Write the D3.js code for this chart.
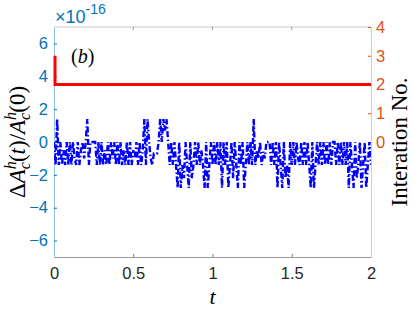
<!DOCTYPE html>
<html>
<head>
<meta charset="utf-8">
<script src="https://cdn.jsdelivr.net/npm/d3@7"></script>
<style>
  body { margin: 0; background: #fff; }
  svg { display: block; }
</style>
</head>
<body>
<div id="chart"></div>
<script>
// time grid of the blue series
const dt = 0.01
// relative change of A_c^h, in units of 1e-16
const dA = [
  0, -1.4, 1.4, -1.4, 0, -1.4, -0.5, -1.4, 0, -1.4,
  0, -1.4, 0, -1.0, -1.4, 0, -1.4, -0.5, 0, -1.0,
  0, 1.4, -1.4, 0, 0, 0, 0, -1.4,
  0, -1.4, 0, -1.4, -0.5, -1.4, 0, -1.4, 0, -1.0,
  0, -1.4, 0, -1.4, 0, -1.4, -0.5, -1.4, 0, -1.4, 0, -1.4,
  -0.5, -1.0, 0, -1.4, 0, -1.4, -0.5,
  1.4, -1.4, 1.4, 0,
  -1.0, -1.4, -0.7, -0.7, -0.7,
  0, 1.4, 0, 1.4, 0.7, 1.4, 0,
  -1.4, 0, -1.4, 0, -1.4,
  -2.8, 0, -2.8, -1.4, -2.2,
  0, -1.4,
  -2.8, 0, -2.2, -1.4,
  0, -1.4, 0, -1.4, -0.5, -1.4,
  -2.8, 0, -2.8, -1.4,
  0, -1.4, 0, -1.4, 0, -1.4, 0,
  -2.8, 0, -1.4, 0, -2.8, -1.4, 0, -2.2, 0, -1.4, -2.8, 0, -1.4, 0, -2.8, -1.4, 0,
  -1.4, 0, -1.4,
  1.4,
  -1.4, -0.5, -1.0, 0, -1.4, -0.6, -1.0, 0,
  0, 0,
  -1.4, 0, -1.4, 0,
  -2.8, 0, -1.4, -2.8, 0, -2.2, -1.4, -2.8, 0,
  -1.4, 0, -1.4, 0, -1.0, -1.4, 0, -1.4, 0, -1.4, 0, -1.4,
  -2.8, 0, -2.8, -1.4,
  0, -1.4, 0, -1.4, 0, -1.4, 0, -1.4, 0, -1.4,
  0, 0,
  -1.4, 0, -1.4, 0, -1.4, 0, -1.4, 0,
  -2.8, 0, -1.4, -2.8, 0, -2.2, -1.4, 0, -2.8, -1.4, 0, -2.8, -1.4,
  0, -1.4
]
// iteration count
const iterT = [0, 0, 2]
const iterN = [3, 2, 2]

const tTicks = [0, 0.5, 1, 1.5, 2]
const leftTicks = [-6, -4, -2, 0, 2, 4, 6]
const rightTicks = [0, 1, 2, 3, 4]

const W = 415, H = 312
const L = 54, R = 371, T = 27, B = 257
const blue = '#0072BD', orange = '#D95319'
const sans = '"Liberation Sans", Arial, sans-serif'
const serif = '"Liberation Serif", "Times New Roman", serif'

const x = d3.scaleLinear().domain([0, 2]).range([L, R])
const yL = d3.scaleLinear().domain([-7, 7]).range([B, T])
const yR = d3.scaleLinear().domain([-4, 4]).range([B, T])

const svg = d3.select('#chart').append('svg')
    .attr('width', W)
    .attr('height', H)

// top box line
svg.append('line').attr('x1', L).attr('x2', R).attr('y1', T).attr('y2', T)
    .attr('stroke', '#c8c8c8').attr('stroke-width', 1)

// bottom axis
const xAxis = svg.append('g')
    .attr('transform', `translate(0,${B})`)
    .call(d3.axisBottom(x).tickValues(tTicks).tickFormat(d3.format('')).tickSizeInner(-3).tickSizeOuter(0).tickPadding(10))
xAxis.select('.domain').attr('stroke', '#9a9a9a')
xAxis.selectAll('.tick line').attr('stroke', '#777')
xAxis.selectAll('.tick text').attr('font-family', sans).attr('font-size', 16.5).attr('fill', '#262626')

// top ticks
svg.append('g')
    .selectAll('line')
    .data(tTicks.slice(1, -1))
    .join('line')
    .attr('x1', d => x(d)).attr('x2', d => x(d))
    .attr('y1', T).attr('y2', T + 3)
    .attr('stroke', '#999')

// left axis
const lAxis = svg.append('g')
    .attr('transform', `translate(${L},0)`)
    .call(d3.axisLeft(yL).tickValues(leftTicks).tickSizeInner(-3).tickSizeOuter(0).tickPadding(6))
lAxis.select('.domain').attr('stroke', '#8cc0e4')
lAxis.selectAll('.tick line').attr('stroke', blue)
lAxis.selectAll('.tick text').attr('font-family', sans).attr('font-size', 16.5).attr('fill', blue)

// right axis
const rAxis = svg.append('g')
    .attr('transform', `translate(${R},0)`)
    .call(d3.axisRight(yR).tickValues(rightTicks).tickSizeInner(-3).tickSizeOuter(0).tickPadding(5))
rAxis.select('.domain').attr('stroke', '#f2c3ae')
rAxis.selectAll('.tick line').attr('stroke', orange)
rAxis.selectAll('.tick text').attr('font-family', sans).attr('font-size', 16.5).attr('fill', orange)

// data
svg.append('clipPath').attr('id', 'clip')
    .append('rect').attr('x', L).attr('y', T).attr('width', R - L).attr('height', B - T)

svg.append('g').attr('clip-path', 'url(#clip)')
    .append('path')
    .datum(dA)
    .attr('fill', 'none')
    .attr('stroke', '#0000ff')
    .attr('stroke-width', 2.4)
    .attr('stroke-dasharray', '6,2.5,1.5,2.5')
    .attr('d', d3.line().x((d, i) => x(i * dt)).y(d => yL(d)))

svg.append('path')
    .datum(iterT.map((t, i) => [t, iterN[i]]))
    .attr('fill', 'none')
    .attr('stroke', '#ff0000')
    .attr('stroke-width', 3)
    .attr('d', d3.line().x(d => x(d[0]) + (d[0] === 0 ? 1 : 0)).y(d => yR(d[1])))

// exponent label
const ex = svg.append('text')
    .attr('x', 55).attr('y', 23)
    .attr('font-family', sans).attr('fill', blue).attr('font-size', 18)
ex.append('tspan').text('\u00d710')
ex.append('tspan').attr('font-size', 14).attr('dy', -9).text('-16')

// panel label
const pl = svg.append('text')
    .attr('x', 71).attr('y', 63)
    .attr('font-family', serif).attr('font-size', 20).attr('fill', '#000')
pl.append('tspan').text('(')
pl.append('tspan').attr('font-style', 'italic').text('b')
pl.append('tspan').text(')')

// x label
svg.append('text')
    .attr('x', (L + R) / 2).attr('y', 304)
    .attr('text-anchor', 'middle')
    .attr('font-family', serif).attr('font-style', 'italic').attr('font-size', 22)
    .text('t')

// left y label
const yl = svg.append('text')
    .attr('transform', `translate(25,${(T + B) / 2}) rotate(-90)`)
    .attr('text-anchor', 'middle')
    .attr('font-family', serif).attr('font-size', 23).attr('fill', '#000')
yl.append('tspan').text('\u0394')
yl.append('tspan').attr('font-style', 'italic').text('A')
yl.append('tspan').attr('font-style', 'italic').attr('font-size', 16).attr('dy', -9).text('h')
yl.append('tspan').attr('font-style', 'italic').attr('font-size', 16).attr('dx', -8).attr('dy', 14).text('c')
yl.append('tspan').attr('dy', -5).text('(')
yl.append('tspan').attr('font-style', 'italic').text('t')
yl.append('tspan').text(')/')
yl.append('tspan').attr('font-style', 'italic').text('A')
yl.append('tspan').attr('font-style', 'italic').attr('font-size', 16).attr('dy', -9).text('h')
yl.append('tspan').attr('font-style', 'italic').attr('font-size', 16).attr('dx', -8).attr('dy', 14).text('c')
yl.append('tspan').attr('dy', -5).text('(0)')

// right y label
svg.append('text')
    .attr('transform', `translate(407,${(T + B) / 2}) rotate(-90)`)
    .attr('text-anchor', 'middle')
    .attr('font-family', serif).attr('font-size', 23).attr('fill', '#000')
    .text('Interation No.')
</script>
</body>
</html>
